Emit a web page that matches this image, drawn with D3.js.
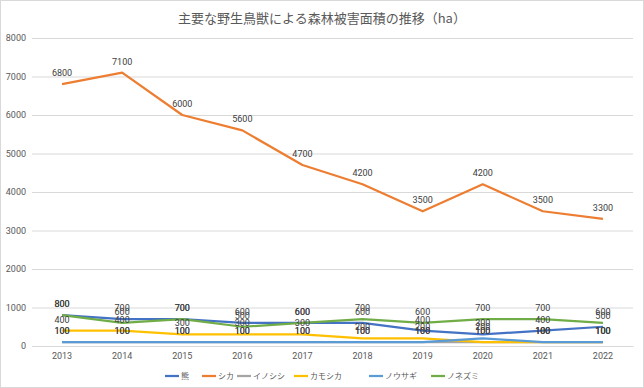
<!DOCTYPE html>
<html lang="ja">
<head>
<meta charset="UTF-8">
<title>主要な野生鳥獣による森林被害面積の推移</title>
<script src="https://d3js.org/d3.v7.min.js"></script>
<style>
  body { margin: 0; background: #fff; }
  svg { display: block; font-family: "Noto Sans CJK JP", "Noto Sans", sans-serif; }
  .tick text { fill: #595959; font-size: 9px; font-family: Roboto, "Noto Sans", sans-serif; }
  .label { fill: #404040; font-size: 9px; font-family: Roboto, "Noto Sans", sans-serif; }
</style>
</head>
<body>
<div id="chart"></div>
<script>
// data
const years = ["2013", "2014", "2015", "2016", "2017", "2018", "2019", "2020", "2021", "2022"];
const seriesNames = ["熊", "シカ", "イノシシ", "カモシカ", "ノウサギ", "ノネズミ"];
const kuma     = [800, 700, 700, 600, 600, 600, 400, 300, 400, 500];
const shika    = [6800, 7100, 6000, 5600, 4700, 4200, 3500, 4200, 3500, 3300];
const inoshishi = [100, 100, 100, 100, 100, 100, 100, 100, 100, 100];
const kamoshika = [400, 400, 300, 300, 300, 200, 200, 100, 100, 100];
const nousagi  = [100, 100, 100, 100, 100, 100, 100, 200, 100, 100];
const nonezumi = [800, 600, 700, 500, 600, 700, 600, 700, 700, 600];
const yTicks = [0, 1000, 2000, 3000, 4000, 5000, 6000, 7000, 8000];
const colors = ["#4472C4", "#ED7D31", "#A5A5A5", "#FFC000", "#5B9BD5", "#70AD47"];

const series = [kuma, shika, inoshishi, kamoshika, nousagi, nonezumi].map((v, i) => ({
  name: seriesNames[i], values: v, color: colors[i]
}));

const W = 644, H = 388;
const margin = { top: 38, right: 11, bottom: 42, left: 32 };
const width = W - margin.left - margin.right,
      height = H - margin.top - margin.bottom;

const svg = d3.select("#chart").append("svg")
  .attr("width", W).attr("height", H);

// chart border
svg.append("rect")
  .attr("x", 0.5).attr("y", 0.5)
  .attr("width", W - 1).attr("height", H - 1)
  .attr("fill", "#fff").attr("stroke", "#D9D9D9");

svg.append("text")
  .attr("x", W / 2).attr("y", 23)
  .attr("text-anchor", "middle")
  .attr("fill", "#595959")
  .style("font-size", "13px")
  .text("主要な野生鳥獣による森林被害面積の推移（ha）");

const g = svg.append("g").attr("transform", `translate(${margin.left},${margin.top})`);

const x = d3.scaleBand().domain(years).range([0, width]);
const y = d3.scaleLinear().domain([0, 8000]).range([height, 0]);

// gridlines + y labels
const yAxis = g.append("g")
  .call(d3.axisLeft(y).tickValues(yTicks).tickFormat(d3.format("d")).tickSize(-width).tickPadding(6));
yAxis.select(".domain").remove();
yAxis.selectAll(".tick line").attr("stroke", "#D9D9D9");

// x axis
const xAxis = g.append("g")
  .attr("transform", `translate(0,${height})`)
  .call(d3.axisBottom(x).tickSize(0).tickPadding(7));
xAxis.select(".domain").attr("stroke", "#D9D9D9");

const line = d3.line()
  .x((d, i) => x(years[i]) + x.bandwidth() / 2)
  .y(d => y(d));

series.forEach(s => {
  g.append("path")
    .datum(s.values)
    .attr("fill", "none")
    .attr("stroke", s.color)
    .attr("stroke-width", 2.25)
    .attr("stroke-linejoin", "round")
    .attr("d", line);
});

series.forEach(s => {
  g.append("g").selectAll("text")
    .data(s.values)
    .join("text")
    .attr("class", "label")
    .attr("x", (d, i) => x(years[i]) + x.bandwidth() / 2)
    .attr("y", d => y(d) - 8)
    .attr("text-anchor", "middle")
    .text(d => d);
});

// legend
const legendX = [165, 202, 237, 294, 369, 431];
const legend = svg.append("g").attr("transform", `translate(0,376)`);
series.forEach((s, i) => {
  const item = legend.append("g").attr("transform", `translate(${legendX[i]},0)`);
  item.append("line")
    .attr("x1", 0).attr("x2", 14)
    .attr("stroke", s.color).attr("stroke-width", 2.25);
  item.append("text")
    .attr("x", 16).attr("y", 3)
    .attr("fill", "#595959")
    .style("font-size", "8px")
    .text(s.name);
});
</script>
</body>
</html>
